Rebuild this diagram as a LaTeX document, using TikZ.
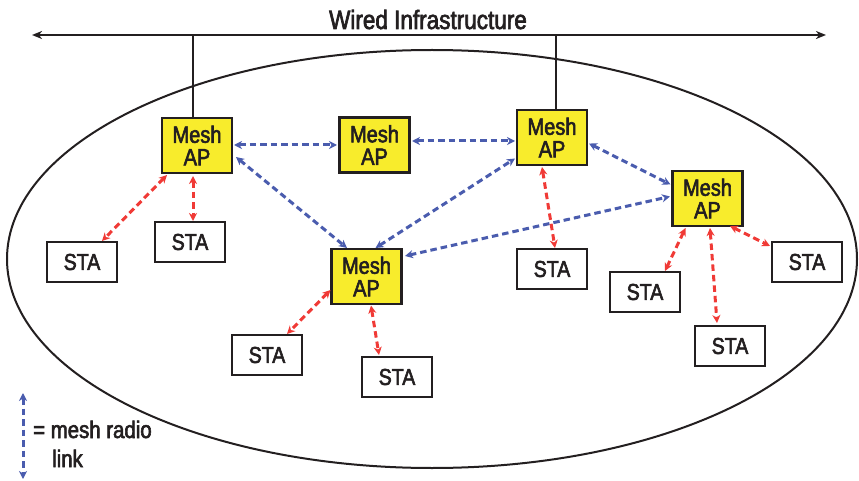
\documentclass[tikz,border=0pt]{standalone}
\usepackage{fontspec}
\setmainfont{Liberation Sans}[FakeStretch=0.85,FakeBold=2.5]
\usetikzlibrary{arrows.meta}
\definecolor{apyellow}{HTML}{F8EC2C}
\definecolor{meshblue}{HTML}{4A5CAE}
\definecolor{stared}{HTML}{F03A36}
\definecolor{ink}{HTML}{231F20}
\tikzset{
  apbox/.style={draw=ink, line width=2.5pt, fill=apyellow, minimum width=70pt, minimum height=55pt,
    inner sep=0pt, align=center, font=\fontsize{23.5}{22.5}\selectfont, text=ink},
  stabox/.style={draw=ink, line width=2.3pt, fill=white, minimum width=70pt, minimum height=40pt,
    inner sep=0pt, font=\fontsize{23}{23}\selectfont, text=ink},
  meshlink/.style={draw=meshblue, line width=3pt, dash pattern=on 6.5pt off 4pt,
    {Stealth[length=8pt,width=8pt,inset=2.5pt]}-{Stealth[length=8pt,width=8pt,inset=2.5pt]}},
  stalink/.style={draw=stared, line width=3pt, dash pattern=on 6.5pt off 4pt,
    {Stealth[length=8pt,width=8pt,inset=2.5pt]}-{Stealth[length=8pt,width=8pt,inset=2.5pt]}},
  wire/.style={draw=ink, line width=2.2pt},
}
\begin{document}
\begin{tikzpicture}[x=1pt,y=-1pt]
\useasboundingbox (0,0) rectangle (859,481);
% ellipse
\draw[ink, line width=2pt] (432,259) ellipse [x radius=425, y radius=209];
% wired infrastructure
\coordinate (wl) at (32,35);
\coordinate (wr) at (826,35);
\coordinate (w1) at (193,35);
\coordinate (w2) at (556,35);
\draw[wire, {Stealth[length=10pt,width=8pt,inset=3pt]}-{Stealth[length=10pt,width=8pt,inset=3pt]}] (wl) -- (wr);
\node[anchor=base, font=\fontsize{26.5}{26.5}\selectfont, text=ink, inner sep=0pt] (title) at (428,29) {Wired Infrastructure};
% mesh APs
\node[apbox] (AP1) at (197,145.5) {Mesh\\AP};
\node[apbox] (AP2) at (374.5,145) {Mesh\\AP};
\node[apbox] (AP3) at (552,137.5) {Mesh\\AP};
\node[apbox] (AP4) at (707.5,198.5) {Mesh\\AP};
\node[apbox] (AP5) at (366.5,276.5) {Mesh\\AP};
\draw[wire] (w1) -- (w1 |- AP1.north);
\draw[wire] (w2) -- (w2 |- AP3.north);
% stations
\node[stabox] (Sa) at (82,262) {STA};
\node[stabox] (Sb) at (190,242) {STA};
\node[stabox] (Sc) at (267,355) {STA};
\node[stabox] (Sd) at (397,377) {STA};
\node[stabox] (Se) at (552,269) {STA};
\node[stabox] (Sf) at (645,292) {STA};
\node[stabox] (Sg) at (730,346) {STA};
\node[stabox] (Sh) at (807,262) {STA};
% mesh radio links
\draw[meshlink] ([shift={(37,-0.5)}]AP1.center) -- ([shift={(-37.5,0)}]AP2.center);
\draw[meshlink] ([shift={(37.5,-4)}]AP2.center) -- ([shift={(-37,3.5)}]AP3.center);
\draw[meshlink] ([shift={(39,11.5)}]AP1.center) -- ([shift={(-19.5,-28.5)}]AP5.center);
\draw[meshlink] ([shift={(9,-28.5)}]AP5.center) -- ([shift={(-37,21)}]AP3.center);
\draw[meshlink] ([shift={(38.5,-20.5)}]AP5.center) -- ([shift={(-37.5,-2)}]AP4.center);
\draw[meshlink] ([shift={(37,6)}]AP3.center) -- ([shift={(-37,-14)}]AP4.center);
% station links
\draw[stalink] ([shift={(-30,29.5)}]AP1.center) -- ([shift={(20,-21)}]Sa.center);
\draw[stalink] ([shift={(-4,30.5)}]AP1.center) -- ([shift={(3,-21)}]Sb.center);
\draw[stalink] ([shift={(-36,13.5)}]AP5.center) -- ([shift={(20,-21)}]Sc.center);
\draw[stalink] ([shift={(4.5,29)}]AP5.center) -- ([shift={(-18,-22)}]Sd.center);
\draw[stalink] ([shift={(-10,29.5)}]AP3.center) -- ([shift={(3,-21)}]Se.center);
\draw[stalink] ([shift={(-22,29.5)}]AP4.center) -- ([shift={(20,-21)}]Sf.center);
\draw[stalink] ([shift={(2.5,29.5)}]AP4.center) -- ([shift={(-13,-23)}]Sg.center);
\draw[stalink] ([shift={(22.5,27.5)}]AP4.center) -- ([shift={(-37,-16)}]Sh.center);
% legend
\coordinate (la) at (23,393);
\coordinate (lb) at (23,479);
\draw[meshlink] (la) -- (lb);
\node[anchor=base west, inner sep=0pt, font=\fontsize{24}{24}\selectfont, text=ink] (leg1) at (33,438) {= mesh radio};
\node[anchor=base west, inner sep=0pt, font=\fontsize{24}{24}\selectfont, text=ink] (leg2) at (52,467) {link};
\end{tikzpicture}
\end{document}
